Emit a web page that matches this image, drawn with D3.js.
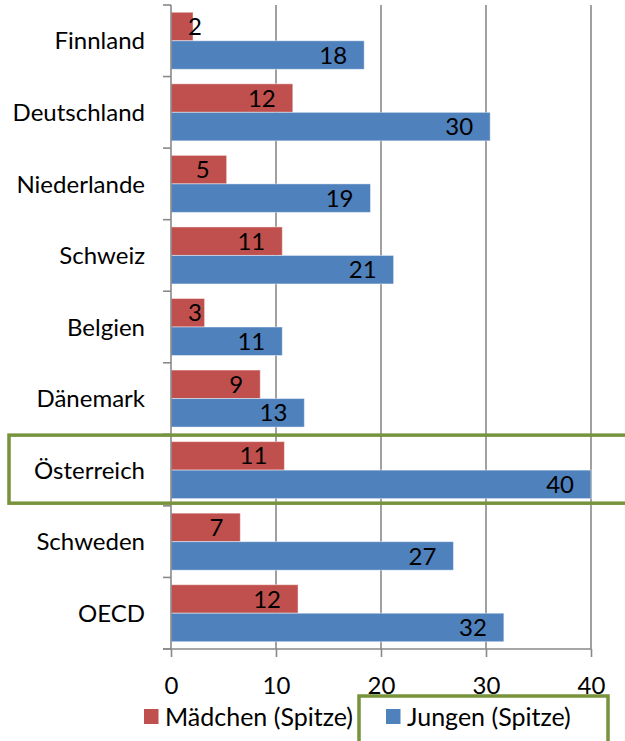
<!DOCTYPE html>
<html>
<head>
<meta charset="utf-8">
<script src="https://cdn.jsdelivr.net/npm/d3@7"></script>
<style>
  body { margin: 0; background: #fff; }
  text { font-family: Lato, "Open Sans", sans-serif; fill: #000; }
</style>
</head>
<body>
<svg id="chart" width="625" height="741"></svg>
<script>
const categories = ["Finnland", "Deutschland", "Niederlande", "Schweiz", "Belgien", "Dänemark", "Österreich", "Schweden", "OECD"]
const maedchen = [2.1, 11.6, 5.3, 10.6, 3.2, 8.5, 10.8, 6.6, 12.1]
const jungen = [18.4, 30.4, 19.0, 21.2, 10.6, 12.7, 40.0, 26.9, 31.7]
const xTicks = [0, 10, 20, 30, 40]
const seriesNames = ["Mädchen (Spitze)", "Jungen (Spitze)"]
const highlighted = "Österreich"

const red = "#C0504D"
const blue = "#4F81BD"
const green = "#77933C"
const grid = "#898989"
const fontSize = "24px"

const svg = d3.select("#chart")

const x = d3.scaleLinear().domain([0, 40]).range([171, 591])
const y = d3.scaleBand().domain(categories).range([5, 649])
const sub = d3.scaleBand().domain([0, 1]).range([0, y.bandwidth()]).paddingOuter(0.255)

// gridlines
svg.append("g")
  .selectAll("line")
  .data(xTicks.slice(1))
  .join("line")
  .attr("x1", d => x(d)).attr("x2", d => x(d))
  .attr("y1", 5).attr("y2", 649)
  .attr("stroke", grid).attr("stroke-width", 1.6)

// bars
const rows = categories.map((c, i) => ({ c, vals: [maedchen[i], jungen[i]] }))
const colors = [red, blue]

const rowG = svg.append("g")
  .selectAll("g")
  .data(rows)
  .join("g")
  .attr("transform", d => `translate(0,${y(d.c)})`)

rowG.selectAll("rect")
  .data(d => d.vals)
  .join("rect")
  .attr("x", x(0))
  .attr("y", (d, i) => sub(i))
  .attr("width", d => x(d) - x(0))
  .attr("height", sub.bandwidth())
  .attr("fill", (d, i) => colors[i])
  .attr("stroke", "rgba(255,255,255,0.45)")
  .attr("stroke-width", 1)

rowG.selectAll("text.val")
  .data(d => d.vals)
  .join("text")
  .attr("class", "val")
  .style("font-size", fontSize)
  .attr("text-anchor", "end")
  .attr("y", (d, i) => sub(i) + sub.bandwidth() / 2)
  .attr("dy", "0.36em")
  .text(d => d3.format(".0f")(d))
  .attr("x", function (d) {
    const w = this.getComputedTextLength()
    return Math.max(x(d) - 17, x(0) + 17 + w)
  })

// axes
svg.append("line")
  .attr("x1", x(0)).attr("x2", x(0)).attr("y1", 5).attr("y2", 649)
  .attr("stroke", grid).attr("stroke-width", 1.6)

svg.append("g")
  .selectAll("line")
  .data(categories.concat([null]))
  .join("line")
  .attr("x1", 163).attr("x2", x(0))
  .attr("y1", d => d === null ? 649 : y(d))
  .attr("y2", d => d === null ? 649 : y(d))
  .attr("stroke", grid).attr("stroke-width", 1.6)

svg.append("line")
  .attr("x1", 163).attr("x2", x(40)).attr("y1", 649).attr("y2", 649)
  .attr("stroke", grid).attr("stroke-width", 1.6)

const xAxis = svg.append("g")
  .attr("transform", "translate(0,649)")
  .call(d3.axisBottom(x).tickValues(xTicks).tickSize(8).tickPadding(20).tickSizeOuter(0))
xAxis.select(".domain").remove()
xAxis.selectAll(".tick line").attr("stroke", grid).attr("stroke-width", 1.6)
xAxis.selectAll(".tick text")
  .style("font-size", fontSize)
  .style("font-family", "Lato, 'Open Sans', sans-serif")
  .attr("fill", "#000")

// category labels
svg.append("g")
  .selectAll("text")
  .data(categories)
  .join("text")
  .style("font-size", fontSize)
  .attr("text-anchor", "end")
  .attr("x", 145)
  .attr("y", d => y(d) + y.bandwidth() / 2)
  .attr("dy", "0.36em")
  .text(d => d)

// highlight box round Österreich
svg.append("rect")
  .attr("x", 9)
  .attr("y", y(highlighted) + 0.8)
  .attr("width", 660)
  .attr("height", y.bandwidth() - 3.5)
  .attr("fill", "none")
  .attr("stroke", green)
  .attr("stroke-width", 3.5)

// legend
const legendX = [144, 386]
const lg = svg.append("g")
  .selectAll("g")
  .data(seriesNames)
  .join("g")
  .attr("transform", (d, i) => `translate(${legendX[i]},709)`)
lg.append("rect")
  .attr("width", 14.5).attr("height", 15)
  .attr("fill", (d, i) => colors[i])
lg.append("text")
  .style("font-size", "25px")
  .attr("x", 21)
  .attr("y", 7.5)
  .attr("dy", "0.36em")
  .text(d => d)

svg.append("rect")
  .attr("x", 359).attr("y", 696)
  .attr("width", 249).attr("height", 80)
  .attr("fill", "none")
  .attr("stroke", green)
  .attr("stroke-width", 3.5)
</script>
</body>
</html>
